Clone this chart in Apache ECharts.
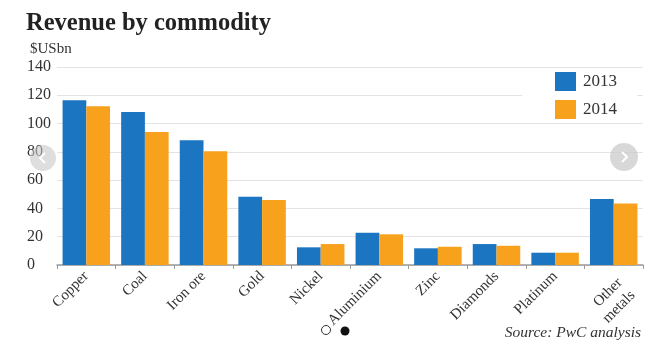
<!DOCTYPE html>
<html><head><meta charset="utf-8">
<script src="https://cdn.jsdelivr.net/npm/echarts@6/dist/echarts.min.js"></script>
<style>html,body{margin:0;padding:0;background:#fff}#c{width:660px;height:341px}</style>
</head><body><div id="c"></div>
<script>
var categories = ['Copper','Coal','Iron ore','Gold','Nickel','Aluminium','Zinc','Diamonds','Platinum','Other\nmetals'];
var values2013 = [116.5, 108.2, 88.2, 48.2, 12.5, 22.8, 11.8, 14.8, 8.7, 46.6];
var values2014 = [112.2, 94.1, 80.5, 45.9, 14.8, 21.7, 12.9, 13.6, 8.7, 43.5];
var yTicks = [0, 20, 40, 60, 80, 100, 120, 140];
var seriesNames = ['2013', '2014'];

var serif = '"Liberation Serif", "DejaVu Serif", serif';
var catData = categories.map(function (c) {
  if (c.indexOf('\n') >= 0) {
    return {value: c, textStyle: {verticalAlign: 'top', lineHeight: 18}};
  }
  return c;
});
var chart = echarts.init(document.getElementById('c'), null, {renderer: 'canvas'});
chart.setOption({
  animation: false,
  backgroundColor: '#fff',
  title: [
    {text: 'Revenue by commodity', left: 21, top: 6,
     textStyle: {fontFamily: serif, fontWeight: 'bold', fontSize: 24.5, color: '#222'}},
    {text: '$USbn', left: 25, top: 37,
     textStyle: {fontFamily: serif, fontWeight: 'normal', fontSize: 15, color: '#333'}},
    {text: 'Source: PwC analysis', right: 14, top: 320,
     textStyle: {fontFamily: serif, fontStyle: 'italic', fontWeight: 'normal', fontSize: 15.5, color: '#333'}}
  ],
  legend: {
    data: seriesNames, orient: 'vertical', left: 522, top: 68,
    backgroundColor: '#fff', padding: [4, 20, 4, 33],
    itemWidth: 21, itemHeight: 19, itemGap: 9,
    icon: 'rect',
    textStyle: {fontFamily: serif, fontSize: 17, color: '#333', padding: [0, 0, 0, 2]}
  },
  grid: {left: 57, right: 17, top: 67, bottom: 76, containLabel: false},
  xAxis: {
    type: 'category', data: catData,
    axisLine: {lineStyle: {color: '#9a9a9a', width: 1.5}},
    axisTick: {show: true, length: 4, lineStyle: {color: '#9a9a9a'}},
    axisLabel: {rotate: 45, interval: 0, margin: 9, fontFamily: serif, fontSize: 15, color: '#333', lineHeight: 15}
  },
  yAxis: {
    type: 'value', min: yTicks[0], max: yTicks[yTicks.length - 1], interval: 20,
    axisLine: {show: false}, axisTick: {show: false},
    splitLine: {lineStyle: {color: '#e3e3e3', width: 1}},
    axisLabel: {align: 'left', margin: 30, fontFamily: serif, fontSize: 16, color: '#333',
      formatter: function (v) { return yTicks.indexOf(v) >= 0 ? String(v) : ''; }}
  },
  series: [
    {name: seriesNames[0], type: 'bar', data: values2013, barGap: '0%', barCategoryGap: '19%',
     itemStyle: {color: '#1b75c1'}},
    {name: seriesNames[1], type: 'bar', data: values2014, barGap: '0%', barCategoryGap: '19%',
     itemStyle: {color: '#f7a11c'}}
  ],
  graphic: [
    {type: 'circle', shape: {cx: 43, cy: 158, r: 13}, style: {fill: 'rgba(200,200,200,0.6)'}, z: 100},
    {type: 'polyline', shape: {points: [[45, 153], [40, 158], [45, 163]]}, style: {stroke: '#fff', lineWidth: 2, fill: null}, z: 101},
    {type: 'circle', shape: {cx: 624, cy: 157, r: 14}, style: {fill: 'rgba(200,200,200,0.7)'}, z: 100},
    {type: 'polyline', shape: {points: [[622, 152], [627, 157], [622, 162]]}, style: {stroke: '#fff', lineWidth: 2, fill: null}, z: 101},
    {type: 'circle', shape: {cx: 326, cy: 330, r: 4.5}, style: {fill: '#fff', stroke: '#333', lineWidth: 1}, z: 100},
    {type: 'circle', shape: {cx: 345, cy: 331, r: 4.5}, style: {fill: '#111'}, z: 100}
  ]
});
</script></body></html>
